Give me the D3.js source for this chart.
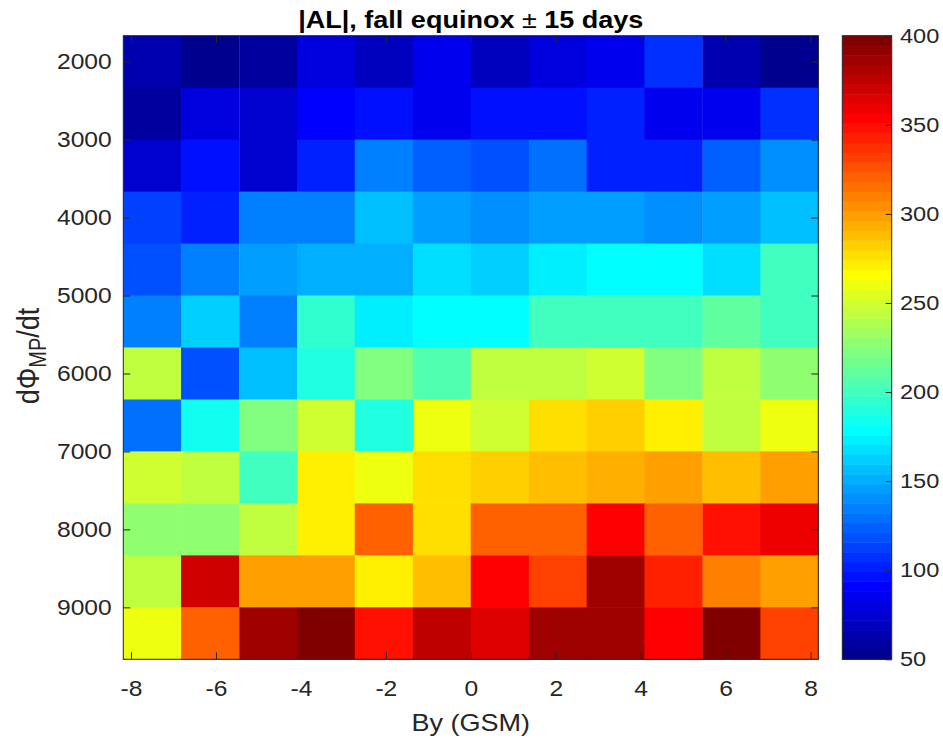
<!DOCTYPE html>
<html>
<head>
<meta charset="utf-8">
<script src="https://cdn.jsdelivr.net/npm/d3@7"></script>
<style>
  body { margin: 0; background: #fff; }
  svg text { font-family: "Liberation Sans", Arial, Helvetica, sans-serif; fill: #262626; }
  .wide { transform-box: fill-box; transform: scaleX(1.15); }
  .wide-c { transform-origin: center; }
  .wide-r { transform-origin: right; }
  .wide-l { transform-origin: left; }
</style>
</head>
<body>
<svg id="chart" width="943" height="742"></svg>
<script>
// bin centres (By in nT, dPhi_MP/dt)
const byBins = [-7.5, -6.14, -4.77, -3.41, -2.05, -0.68, 0.68, 2.05, 3.41, 4.77, 6.14, 7.5];
const dphiBins = [2000, 2667, 3333, 4000, 4667, 5333, 6000, 6667, 7333, 8000, 8667, 9333];

// |AL| per bin, one array per dPhi row (top to bottom), columns follow byBins
const alRow2000 = [65, 53, 57, 79, 69, 83, 67, 80, 85, 105, 63, 55];
const alRow2667 = [60, 82, 72, 89, 99, 86, 94, 98, 103, 86, 85, 108];
const alRow3333 = [74, 94, 76, 102, 137, 126, 120, 130, 102, 102, 125, 142];
const alRow4000 = [111, 102, 137, 137, 159, 144, 142, 146, 146, 142, 146, 159];
const alRow4667 = [120, 135, 148, 153, 153, 165, 163, 172, 181, 176, 168, 203];
const alRow5333 = [137, 163, 137, 197, 171, 178, 181, 203, 203, 203, 210, 203];
const alRow6000 = [242, 120, 159, 187, 220, 205, 242, 242, 247, 220, 242, 225];
const alRow6667 = [131, 186, 220, 247, 192, 258, 247, 277, 281, 269, 242, 263];
const alRow7333 = [247, 242, 199, 269, 258, 276, 280, 290, 291, 297, 286, 297];
const alRow8000 = [225, 225, 242, 269, 323, 275, 318, 318, 351, 323, 350, 361];
const alRow8667 = [242, 372, 297, 297, 269, 286, 356, 334, 389, 345, 308, 297];
const alRow9333 = [258, 318, 389, 400, 346, 378, 367, 389, 384, 356, 400, 334];
const alRows = [alRow2000, alRow2667, alRow3333, alRow4000, alRow4667, alRow5333,
                alRow6000, alRow6667, alRow7333, alRow8000, alRow8667, alRow9333];

const xTicks = [-8, -6, -4, -2, 0, 2, 4, 6, 8];
const yTicks = [2000, 3000, 4000, 5000, 6000, 7000, 8000, 9000];
const cTicks = [50, 100, 150, 200, 250, 300, 350, 400];

// MATLAB jet(n)
function jet(n) {
  const m = Math.ceil(n / 4);
  const u = [];
  for (let i = 1; i <= m; i++) u.push(i / m);
  for (let i = 1; i < m; i++) u.push(1);
  for (let i = m; i >= 1; i--) u.push(i / m);
  const g0 = Math.ceil(m / 2) - (n % 4 === 1 ? 1 : 0);
  const map = d3.range(n).map(() => [0, 0, 0]);
  u.forEach((v, k) => {
    const g = g0 + k + 1, r = g + m, b = g - m;
    if (r <= n) map[r - 1][0] = v;
    if (g <= n) map[g - 1][1] = v;
    if (b >= 1) map[b - 1][2] = v;
  });
  return map.map(c => d3.rgb(c[0] * 255, c[1] * 255, c[2] * 255).formatHex());
}
const jetColors = jet(64);

const plot = { left: 123.3, right: 818.3, top: 35.7, bottom: 659.3 };
const cbar = { left: 842.3, right: 891.7 };
const plain = d => String(d);

const svg = d3.select("#chart");
svg.append("rect").attr("width", 943).attr("height", 742).attr("fill", "#fff");

const xScale = d3.scaleLinear()
  .domain([-8.1818, 8.1818])
  .range([plot.left, plot.right]);
const yScale = d3.scaleLinear()
  .domain([1666.7, 9666.7])
  .range([plot.top, plot.bottom]);
const color = d3.scaleQuantize().domain([50, 400]).range(jetColors);

const cells = [];
alRows.forEach((row, i) => row.forEach((v, j) => cells.push({ by: byBins[j], dphi: dphiBins[i], v: v })));

const colW = xScale(xScale.domain()[0] + (xScale.domain()[1] - xScale.domain()[0]) / byBins.length) - plot.left;
const rowH = yScale(yScale.domain()[0] + (yScale.domain()[1] - yScale.domain()[0]) / dphiBins.length) - plot.top;

svg.append("g").selectAll("rect")
  .data(cells)
  .enter()
  .append("rect")
  .attr("x", d => xScale(d.by) - colW / 2)
  .attr("y", d => yScale(d.dphi) - rowH / 2)
  .attr("width", colW + 0.5)
  .attr("height", rowH + 0.5)
  .attr("fill", d => color(d.v));

// axes (inward ticks, box)
const axisColor = "#262626";
function styleAxis(g) {
  g.select(".domain").remove();
  g.selectAll(".tick line").attr("stroke", axisColor).attr("stroke-width", 1);
  g.selectAll(".tick text").attr("fill", axisColor).attr("font-size", "21.4px");
}

const xAxisG = svg.append("g")
  .attr("transform", `translate(0,${plot.bottom})`)
  .call(d3.axisBottom(xScale).tickValues(xTicks).tickFormat(plain).tickSize(-7).tickPadding(22).tickSizeOuter(0))
  .call(styleAxis);
xAxisG.selectAll(".tick text").attr("class", "wide wide-c");

svg.append("g")
  .attr("transform", `translate(0,${plot.top})`)
  .call(d3.axisTop(xScale).tickValues(xTicks).tickSize(-7).tickFormat("").tickSizeOuter(0))
  .call(styleAxis);

const yAxisG = svg.append("g")
  .attr("transform", `translate(${plot.left},0)`)
  .call(d3.axisLeft(yScale).tickValues(yTicks).tickFormat(plain).tickSize(-7).tickPadding(11.6).tickSizeOuter(0))
  .call(styleAxis);
yAxisG.selectAll(".tick text").attr("class", "wide wide-r");

svg.append("g")
  .attr("transform", `translate(${plot.right},0)`)
  .call(d3.axisRight(yScale).tickValues(yTicks).tickSize(-7).tickFormat("").tickSizeOuter(0))
  .call(styleAxis);

svg.append("rect")
  .attr("x", plot.left).attr("y", plot.top)
  .attr("width", plot.right - plot.left).attr("height", plot.bottom - plot.top)
  .attr("fill", "none").attr("stroke", axisColor).attr("stroke-width", 1);

// colorbar
const cScale = d3.scaleLinear().domain([50, 400]).range([plot.bottom, plot.top]);
const cStep = 350 / jetColors.length;
svg.append("g").selectAll("rect")
  .data(jetColors)
  .enter()
  .append("rect")
  .attr("x", cbar.left)
  .attr("y", (d, i) => cScale(50 + (i + 1) * cStep))
  .attr("width", cbar.right - cbar.left)
  .attr("height", (d, i) => cScale(50 + i * cStep) - cScale(50 + (i + 1) * cStep) + 0.5)
  .attr("fill", d => d);

const cAxisG = svg.append("g")
  .attr("transform", `translate(${cbar.right},0)`)
  .call(d3.axisRight(cScale).tickValues(cTicks).tickFormat(plain).tickSize(-6).tickPadding(8.3).tickSizeOuter(0))
  .call(styleAxis);
cAxisG.selectAll(".tick text").attr("font-size", "20.5px").attr("class", "wide wide-l");

svg.append("rect")
  .attr("x", cbar.left).attr("y", plot.top)
  .attr("width", cbar.right - cbar.left).attr("height", plot.bottom - plot.top)
  .attr("fill", "none").attr("stroke", axisColor).attr("stroke-width", 1);

// title and labels
const title = svg.append("text")
  .attr("class", "wide wide-c")
  .attr("x", (plot.left + plot.right) / 2)
  .attr("y", 28)
  .attr("text-anchor", "middle")
  .attr("font-size", "23.5px")
  .attr("font-weight", "bold")
  .style("fill", "#000");
title.append("tspan").text("|AL|, fall equinox ");
title.append("tspan").attr("font-weight", "normal").style("fill", "#000").text("\u00B1");
title.append("tspan").text(" 15 days");

svg.append("text")
  .attr("class", "wide wide-c")
  .attr("x", (plot.left + plot.right) / 2)
  .attr("y", 731)
  .attr("text-anchor", "middle")
  .attr("font-size", "23.5px")
  .text("By (GSM)");

const yLabel = svg.append("text")
  .attr("transform", "translate(39,356) scale(1.15,1) rotate(-90)")
  .attr("text-anchor", "middle")
  .attr("font-size", "27px");
yLabel.append("tspan").text("d\u03A6");
yLabel.append("tspan").attr("font-size", "20px").attr("dy", 6).text("MP");
yLabel.append("tspan").attr("dy", -6).text("/dt");
</script>
</body>
</html>
